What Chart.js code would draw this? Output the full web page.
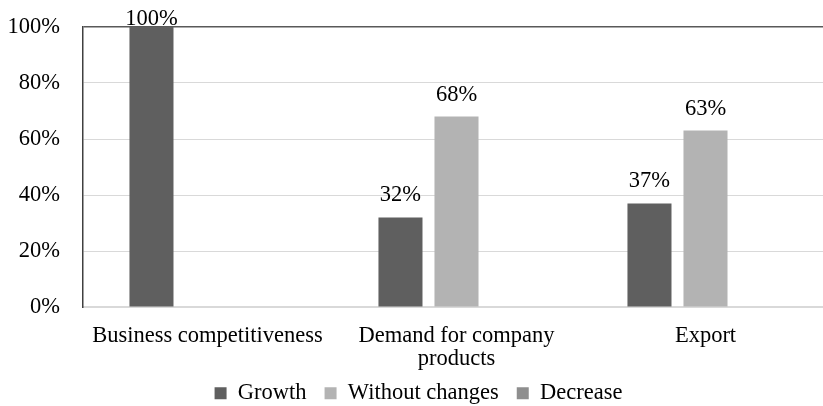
<!DOCTYPE html>
<html>
<head>
<meta charset="utf-8">
<script src="https://cdn.jsdelivr.net/npm/chart.js@4/dist/chart.umd.min.js"></script>
<style>
  html, body { margin: 0; padding: 0; background: #fff; overflow: hidden; }
  #wrap { width: 856px; height: 406px; }
</style>
</head>
<body>
<div id="wrap"><canvas id="changesChart" width="856" height="406"></canvas></div>
<script>
var categories = ['Business competitiveness', ['Demand for company', 'products'], 'Export'];
var growth = [100, 32, 37];
var withoutChanges = [0, 68, 63];
var decrease = [0, 0, 0];
var yTicks = [0, 20, 40, 60, 80, 100];

var serif = "'Liberation Serif', 'Times New Roman', serif";
var fontSize = 22.5;
Chart.defaults.font.family = serif;
Chart.defaults.color = '#000';

// percent labels above each non-zero bar, plus a compact legend strip
var barLabels = {
    id: 'barLabels',
    beforeLayout: function (chart) {
        var legend = chart.legend;
        if (legend && !legend._shortFit) {
            var fit = legend.fit;
            legend.fit = function () {
                fit.call(this);
                this.height = 33;
            };
            legend._shortFit = true;
        }
    },
    afterLayout: function (chart) {
        // start the legend row a little higher, over the empty part of the axis strip
        var legend = chart.legend;
        if (legend) {
            legend.top -= 9;
        }
    },
    afterDatasetsDraw: function (chart) {
        var ctx = chart.ctx;
        ctx.save();
        ctx.font = fontSize + 'px ' + serif;
        ctx.fillStyle = '#000';
        ctx.textAlign = 'center';
        ctx.textBaseline = 'alphabetic';
        chart.data.datasets.forEach(function (ds, i) {
            var meta = chart.getDatasetMeta(i);
            meta.data.forEach(function (bar, j) {
                var v = ds.data[j];
                if (!v) return;
                var y = Math.max(bar.y - 16, 25);
                ctx.fillText(v + '%', bar.x, y);
            });
        });
        ctx.restore();
    }
};

function createChart(canvasId) {
    var ctx = document.getElementById(canvasId).getContext('2d');
    return new Chart(ctx, {
        type: 'bar',
        data: {
            labels: categories,
            datasets: [
                { label: 'Growth', data: growth, backgroundColor: '#5f5f5f' },
                { label: 'Without changes', data: withoutChanges, backgroundColor: '#b3b3b3' },
                { label: 'Decrease', data: decrease, backgroundColor: '#8e8e8e' }
            ]
        },
        options: {
            responsive: false,
            animation: false,
            categoryPercentage: 0.675,
            barPercentage: 0.786,
            layout: { padding: { left: 7, right: 26, top: 27, bottom: 0 } },
            plugins: {
                legend: {
                    position: 'bottom',
                    labels: {
                        boxWidth: 12,
                        boxHeight: 12,
                        padding: 18,
                        font: { size: fontSize },
                        color: '#000'
                    }
                },
                tooltip: { enabled: false }
            },
            scales: {
                x: {
                    grid: { display: false },
                    border: { display: true, color: '#d9d9d9', width: 2 },
                    afterFit: function (scale) { scale.height = 66; },
                    ticks: { font: { size: fontSize, lineHeight: '23px' }, color: '#000', padding: 10, maxRotation: 0 }
                },
                y: {
                    min: 0,
                    max: 100,
                    afterBuildTicks: function (scale) {
                        scale.ticks = yTicks.map(function (v) { return { value: v }; });
                    },
                    afterFit: function (scale) {
                        scale.width = 76;
                        scale.paddingTop = 14;
                        scale.paddingBottom = 14;
                    },
                    grid: {
                        drawTicks: false,
                        color: function (c) { return c.tick && c.tick.value === 100 ? '#595959' : '#d9d9d9'; },
                        lineWidth: function (c) { return c.tick && c.tick.value === 100 ? 1.5 : 1; }
                    },
                    border: { display: true, color: '#404040', width: 1.5 },
                    ticks: {
                        font: { size: fontSize },
                        color: '#000',
                        padding: 23,
                        callback: function (v) { return v + '%'; }
                    }
                }
            }
        },
        plugins: [barLabels]
    });
}

createChart('changesChart');
</script>
</body>
</html>
